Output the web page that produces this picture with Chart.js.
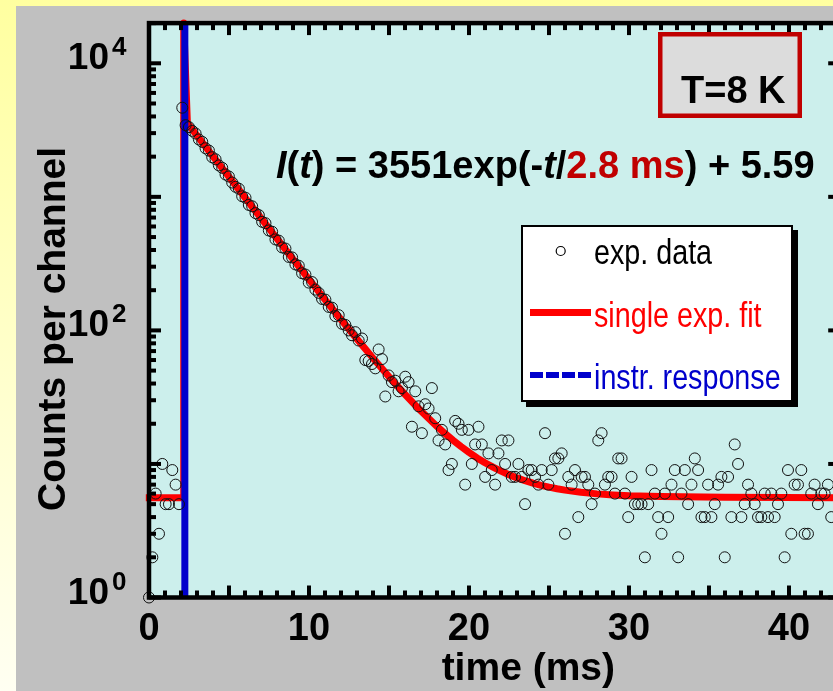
<!DOCTYPE html>
<html>
<head>
<meta charset="utf-8">
<script src="https://cdn.jsdelivr.net/npm/chart.js@4"></script>
<style>
html, body { margin: 0; padding: 0; overflow: hidden; }
body { width: 833px; height: 691px; position: relative; background: linear-gradient(to bottom, #ffffa0, #fffff2); }
#chart { position: absolute; left: 16px; top: 6px; background: #c0c0c0; }
</style>
</head>
<body>
<canvas id="chart" width="850" height="685"></canvas>
<script>
// one channel of the multichannel scaler, in ms
const channelMs = 0.208;

// counts per channel, channel 0 at t = 0
const counts = [
    1, 2, 6, 3, 10, 5, 5, 9, 7, 5,
    4650, 3440, 3330, 3120, 2980, 2690, 2580, 2310, 2220, 1980,
    1910, 1720, 1650, 1470, 1420, 1280, 1190, 1150, 1010, 985,
    870, 850, 755, 730, 650, 635, 560, 548, 480, 470,
    418, 410, 355, 352, 312, 305, 268, 262, 228, 230,
    202, 191, 172, 170, 150, 148, 128, 130, 112, 110,
    100, 92, 97, 84, 87, 60, 59, 56, 52, 72,
    61, 32, 46, 41, 42, 35, 37, 45, 41, 19,
    35, 27, 17, 28, 26, 37, 22, 15, 18, 14,
    9, 10, 21, 20, 18, 7, 18, 10, 14, 19,
    14, 8, 12, 9, 7, 12, 15, 10, 15, 8,
    8, 10, 8, 5, 9, 9, 8, 7, 9, 17,
    7, 9, 11, 11, 12, 3, 8, 7, 9, 4,
    8, 8, 7, 5, 6, 15, 17, 7, 8, 8,
    6, 11, 11, 6, 4, 8, 5, 5, 5, 2,
    5, 9, 6, 4, 3, 6, 4, 7, 9, 2,
    6, 9, 5, 7, 11, 9, 4, 4, 7, 4,
    5, 7, 8, 2, 8, 4, 14, 10, 4, 5,
    7, 6, 5, 4, 4, 6, 4, 6, 4, 5,
    6, 2, 9, 3, 7, 7, 9, 3, 3, 6,
    7, 5, 6, 6, 7, 4
];

// single exponential fit
const fitTimes = [-0.2, 2.17, 2.17, 2.4, 3, 4, 5, 6, 7, 8, 9, 10, 11, 12, 13, 14, 15, 15.5, 16, 16.5, 17, 17.5,
    18, 18.5, 19, 19.5, 20, 20.5, 21, 21.5, 22, 22.5, 23, 23.5, 24, 24.5, 25, 25.5, 26, 27, 28, 29, 30, 32, 36, 43.2];
const fitValues = [5.59, 5.59, 20000, 3557, 2872, 2011, 1409, 987, 692, 486, 342, 241, 170, 120.8, 86.2, 62.0, 45.0, 38.6, 33.2, 28.7, 24.9, 21.8,
    19.1, 16.9, 15.05, 13.5, 12.2, 11.1, 10.2, 9.46, 8.83, 8.30, 7.86, 7.49, 7.18, 6.92, 6.70, 6.52, 6.37, 6.13, 5.97, 5.86, 5.78, 5.70, 5.62, 5.59];

// instrument response, a spike at the laser pulse
const irfTimes = [2.24, 2.24];
const irfValues = [1, 20000];

const xTickLabels = [0, 10, 20, 30, 40];
const yTickExponents = [0, 2, 4];

const FONT = '"Liberation Sans", Arial, sans-serif';

function drawRuns(ctx, runs, x, y) {
    for (const r of runs) {
        ctx.font = r.font;
        ctx.fillStyle = r.color || "#000";
        ctx.fillText(r.text, x, y);
        x += ctx.measureText(r.text).width;
    }
}

const framePlugin = {
    id: "frame",
    beforeDatasetsDraw(chart) {
        const { ctx, chartArea: a } = chart;
        ctx.save();
        ctx.fillStyle = "#ccefec";
        ctx.fillRect(a.left, a.top, a.right - a.left, a.bottom - a.top);
        ctx.restore();
    },
    afterDatasetsDraw(chart) {
        const { ctx, chartArea: a, scales: { x, y } } = chart;
        ctx.save();
        ctx.fillStyle = "#000";

        // inward ticks on all four sides
        for (let t = 1; t <= 43; t++) {
            const px = x.getPixelForValue(t);
            const len = t % 5 === 0 ? 12 : 7;
            ctx.fillRect(px - 2, a.bottom - len, 4, len);
            ctx.fillRect(px - 2, a.top, 4, len);
        }
        for (let d = 0; d <= 4; d++) {
            for (let m = 1; m <= 9; m++) {
                const v = m * Math.pow(10, d);
                if (v > y.max) break;
                const py = y.getPixelForValue(v);
                const len = m === 1 ? 12 : 7;
                ctx.fillRect(a.left, py - 2, len, 4);
                ctx.fillRect(a.right - len, py - 2, len, 4);
            }
        }
        ctx.lineWidth = 4.5;
        ctx.strokeStyle = "#000";
        ctx.strokeRect(a.left, a.top, a.right - a.left, a.bottom - a.top);

        // tick labels
        ctx.textBaseline = "alphabetic";
        ctx.textAlign = "center";
        ctx.font = "bold 38px " + FONT;
        xTickLabels.forEach(v => ctx.fillText(String(v), x.getPixelForValue(v), 634));

        yTickExponents.forEach(e => {
            const py = y.getPixelForValue(Math.pow(10, e));
            ctx.textAlign = "right";
            ctx.font = "bold 37px " + FONT;
            ctx.fillText("10", 93, py + 6);
            ctx.textAlign = "left";
            ctx.font = "bold 26px " + FONT;
            ctx.fillText(String(e), 96, py - 8);
        });

        // axis titles
        ctx.font = "bold 39px " + FONT;
        ctx.textAlign = "right";
        ctx.fillText("time (ms)", 599, 674);
        ctx.save();
        ctx.translate(49, 323);
        ctx.rotate(-Math.PI / 2);
        ctx.textAlign = "center";
        ctx.fillText("Counts per channel", 0, 0);
        ctx.restore();

        // fit formula
        ctx.textAlign = "left";
        const b = "bold 38px " + FONT;
        const bi = "italic bold 38px " + FONT;
        drawRuns(ctx, [
            { text: "I", font: bi },
            { text: "(", font: b },
            { text: "t", font: bi },
            { text: ") = 3551exp(-", font: b },
            { text: "t", font: bi },
            { text: "/", font: b },
            { text: "2.8 ms", font: b, color: "#c00000" },
            { text: ") + 5.59", font: b }
        ], 260, 172);

        // temperature box
        ctx.fillStyle = "#dcdcdc";
        ctx.fillRect(644, 28, 140, 82);
        ctx.lineWidth = 4.5;
        ctx.strokeStyle = "#c00000";
        ctx.strokeRect(644.25, 28.25, 139.5, 81.5);
        ctx.fillStyle = "#000";
        ctx.font = "bold 38px " + FONT;
        ctx.fillText("T=8 K", 665, 97);

        // legend
        ctx.fillStyle = "#000";
        ctx.fillRect(510, 224, 272, 177);
        ctx.fillStyle = "#fff";
        ctx.fillRect(505, 219, 272, 177);
        ctx.lineWidth = 2;
        ctx.strokeStyle = "#000";
        ctx.strokeRect(506, 220, 270, 175);

        ctx.beginPath();
        ctx.lineWidth = 1.2;
        ctx.arc(544.7, 245, 4.5, 0, Math.PI * 2);
        ctx.stroke();

        ctx.beginPath();
        ctx.lineWidth = 7;
        ctx.strokeStyle = "#ff0000";
        ctx.moveTo(514, 306.5);
        ctx.lineTo(575, 306.5);
        ctx.stroke();

        ctx.beginPath();
        ctx.lineWidth = 6;
        ctx.strokeStyle = "#0000cc";
        ctx.setLineDash([13, 3]);
        ctx.moveTo(514, 369);
        ctx.lineTo(575, 369);
        ctx.stroke();
        ctx.setLineDash([]);

        const legendTexts = [
            ["exp. data", "#000", 258],
            ["single exp. fit", "#ff0000", 321],
            ["instr. response", "#0000cc", 383]
        ];
        ctx.font = "35px " + FONT;
        legendTexts.forEach(([text, color, by]) => {
            ctx.save();
            ctx.translate(578, by);
            ctx.scale(0.82, 1);
            ctx.fillStyle = color;
            ctx.fillText(text, 0, 0);
            ctx.restore();
        });

        ctx.restore();
    }
};

new Chart(document.getElementById("chart"), {
    type: "scatter",
    data: {
        datasets: [
            {
                label: "exp. data",
                data: counts.map((c, i) => ({ x: i * channelMs, y: c })),
                showLine: false,
                pointRadius: 5.5,
                pointBorderWidth: 1,
                pointBorderColor: "#111",
                pointBackgroundColor: "rgba(0,0,0,0)",
                clip: false,
                order: 0
            },
            {
                label: "instr. response",
                data: irfTimes.map((t, i) => ({ x: t, y: irfValues[i] })),
                showLine: true,
                borderColor: "#0000cc",
                borderWidth: 7,
                pointRadius: 0,
                clip: false,
                order: 1
            },
            {
                label: "single exp. fit",
                data: fitTimes.map((t, i) => ({ x: t, y: fitValues[i] })),
                showLine: true,
                borderColor: "#ff0000",
                borderWidth: 7,
                borderJoinStyle: "round",
                pointRadius: 0,
                tension: 0,
                clip: false,
                order: 2
            }
        ]
    },
    options: {
        responsive: false,
        animation: false,
        layout: {
            padding: { left: 133, right: 25.8, top: 17.1, bottom: 93.5 }
        },
        plugins: {
            legend: { display: false },
            tooltip: { enabled: false }
        },
        scales: {
            x: { type: "linear", min: 0, max: 43.2, display: false },
            y: { type: "logarithmic", min: 1, max: 20000, display: false }
        }
    },
    plugins: [framePlugin]
});
</script>
</body>
</html>
